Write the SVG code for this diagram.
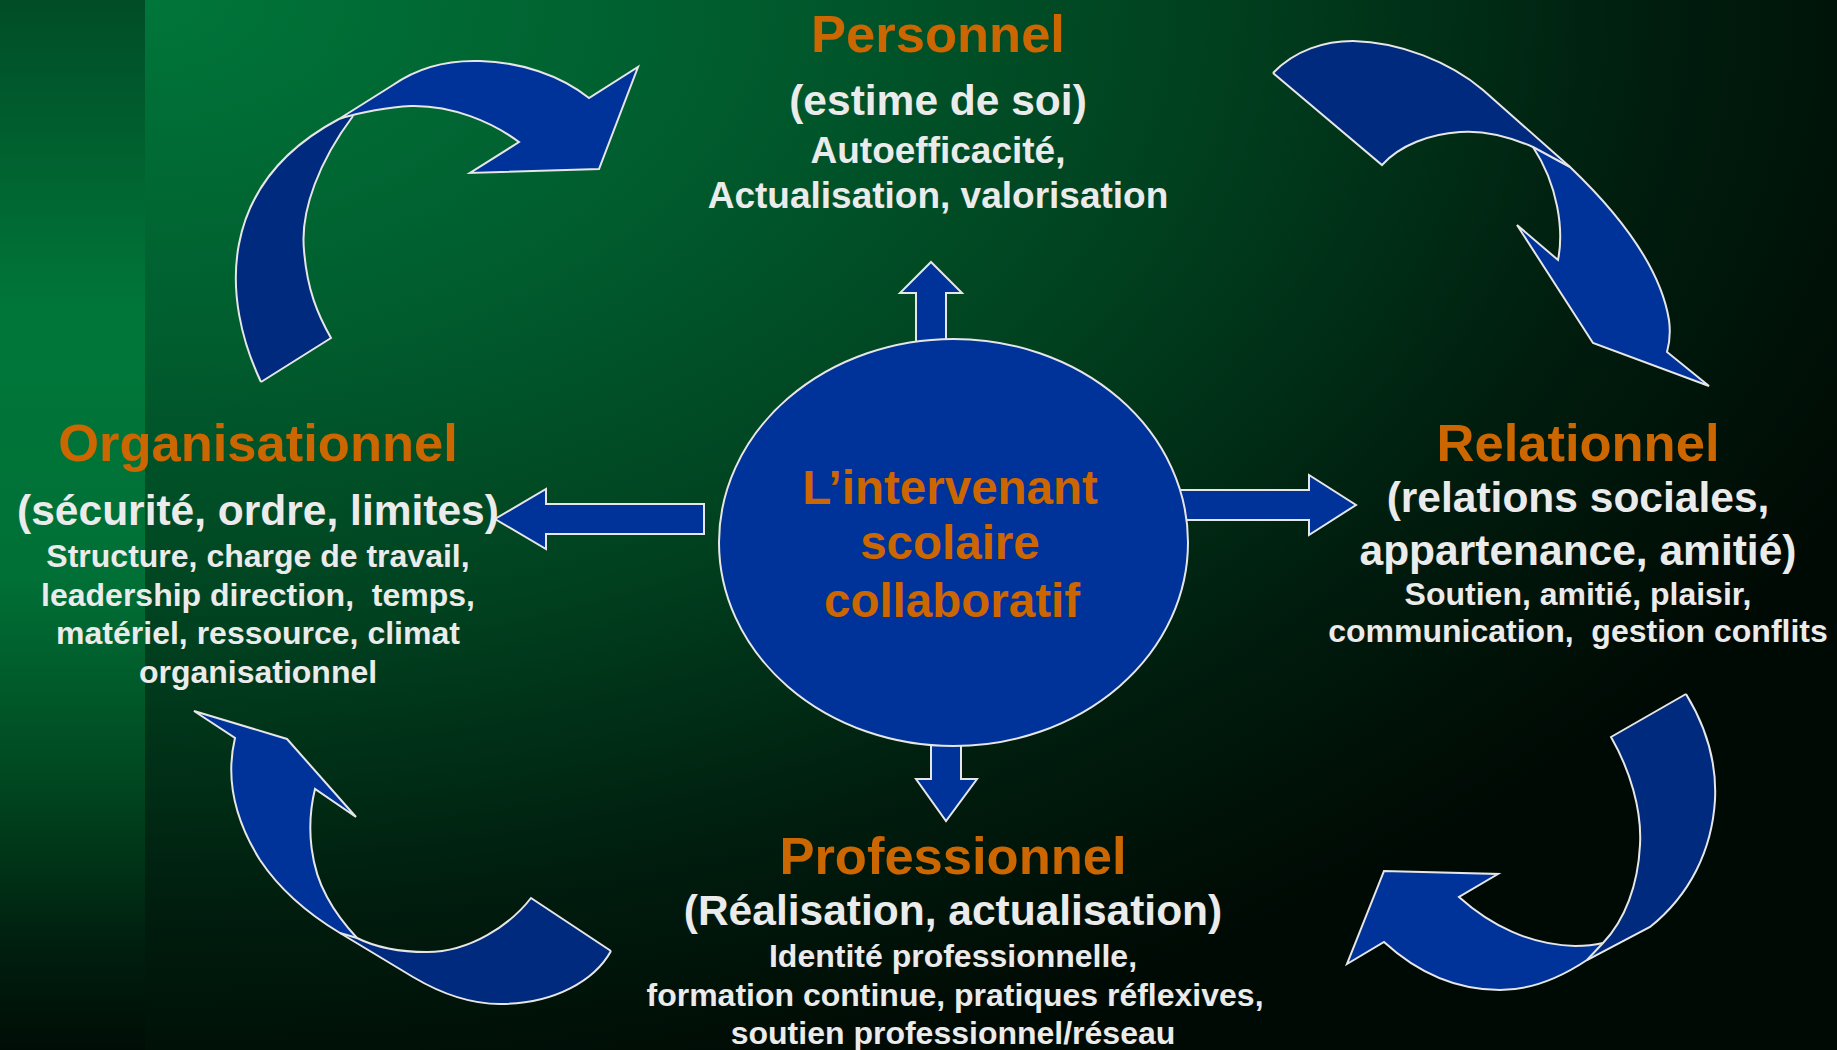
<svg xmlns="http://www.w3.org/2000/svg" width="1837" height="1050" viewBox="0 0 1837 1050">
<defs>
<radialGradient id="bgMain" gradientUnits="userSpaceOnUse" cx="145" cy="0" r="1900" gradientTransform="translate(145,0) scale(1,0.6) translate(-145,0)">
<stop offset="0" stop-color="#00763a"/>
<stop offset="0.3" stop-color="#005d2e"/>
<stop offset="0.55" stop-color="#004220"/>
<stop offset="0.8" stop-color="#001d0e"/>
<stop offset="1" stop-color="#000a04"/>
</radialGradient>
<linearGradient id="bgStrip" x1="0" y1="0" x2="0" y2="1">
<stop offset="0" stop-color="#004d26"/>
<stop offset="0.3" stop-color="#00773a"/>
<stop offset="0.55" stop-color="#007036"/>
<stop offset="0.75" stop-color="#00461f"/>
<stop offset="0.9" stop-color="#001f0f"/>
<stop offset="1" stop-color="#000d06"/>
</linearGradient>
</defs>
<style>
.t{font-family:"Liberation Sans",Arial,Helvetica,sans-serif;font-weight:bold;text-anchor:middle}
.h{fill:#cc6600;font-size:52.5px}
.s{fill:#ebebeb;font-size:42.5px}
.b{fill:#ebebeb;font-size:32px}
.bt{fill:#ebebeb;font-size:37px}
.c{fill:#cc6600;font-size:47.5px}
.pre{white-space:pre}
.arrow{fill:#003399;stroke:#e6e6e6;stroke-width:2;stroke-linejoin:miter}
.dark{fill:#002a7d;stroke:none}
.bright{fill:#003399;stroke:none}
.edge{fill:none;stroke:#e6e6e6;stroke-width:2;stroke-linejoin:miter}
.ell{fill:#003399;stroke:#e6e6e6;stroke-width:2}
</style>

<rect x="0" y="0" width="1837" height="1050" fill="url(#bgMain)"/>
<rect x="0" y="0" width="145" height="1050" fill="url(#bgStrip)"/>

<g id="connectors">
<!-- straight arrows from the centre -->
<polygon class="arrow" points="916,350 916,293 900,293 931,262 962,293 946,293 946,350"/>
<polygon class="arrow" points="931,735 931,779 916,779 946,821 977,779 961,779 961,735"/>
<polygon class="arrow" points="1170,490 1309,490 1309,475 1356,505 1309,535 1309,520 1170,520"/>
<polygon class="arrow" points="704,504 546,504 546,489 495,519 546,549 546,534 704,534"/>

<!-- top-left curved arrow -->
<g id="curve-tl">
<path class="dark" d="M261,382 C222,300 215,185 339,119 L353,116 C320,160 300,210 304,250 C307,290 318,315 331,338 Z"/>
<path class="bright" d="M339,119 L393,85 C420,66 450,60 480,61 C520,62 560,75 589,98 L638,67 L599,169 L470,173 L519,142 C492,122 452,105 411,106 C390,107 360,112 339,119 Z"/>
<path class="edge" d="M261,382 C222,300 215,185 339,119 L393,85 C420,66 450,60 480,61 C520,62 560,75 589,98 L638,67 L599,169 L470,173 L519,142 C492,122 452,105 411,106 C390,107 360,112 339,119"/>
<path class="edge" d="M261,382 L331,338 C318,315 307,290 304,250 C300,210 320,160 353,116"/>
</g>

<!-- top-right curved arrow -->
<g id="curve-tr">
<path class="dark" d="M1273,73 C1295,50 1325,41 1353,41 C1400,42 1450,62 1483,90 L1570,167 L1533,147 C1510,137 1485,130 1460,132 C1430,134 1400,145 1382,165 Z"/>
<path class="bright" d="M1533,147 L1570,167 C1615,210 1660,265 1669,320 C1671,335 1669,345 1667,352 L1709,386 L1593,343 L1517,225 L1558,260 C1564,230 1558,185 1533,147 Z"/>
<path class="edge" d="M1273,73 C1295,50 1325,41 1353,41 C1400,42 1450,62 1483,90 L1570,167 C1615,210 1660,265 1669,320 C1671,335 1669,345 1667,352 L1709,386 L1593,343 L1517,225 L1558,260 C1564,230 1558,185 1533,147"/>
<path class="edge" d="M1273,73 L1382,165 C1400,145 1430,134 1460,132 C1485,130 1510,137 1533,147 L1570,167"/>
</g>

<!-- bottom-right curved arrow -->
<g id="curve-br">
<path class="dark" d="M1686,694 C1705,725 1717,760 1715,800 C1712,850 1690,895 1650,927 L1587,960 L1603,943 C1625,920 1638,885 1640,845 C1642,810 1630,770 1611,737 Z"/>
<path class="bright" d="M1603,943 L1587,960 C1560,978 1530,990 1500,990 C1460,990 1420,975 1384,942 L1347,964 L1384,871 L1498,874 L1459,897 C1490,925 1530,945 1575,946 C1585,946 1595,945 1603,943 Z"/>
<path class="edge" d="M1686,694 C1705,725 1717,760 1715,800 C1712,850 1690,895 1650,927 L1587,960 C1560,978 1530,990 1500,990 C1460,990 1420,975 1384,942 L1347,964 L1384,871 L1498,874 L1459,897 C1490,925 1530,945 1575,946 C1585,946 1595,945 1603,943"/>
<path class="edge" d="M1686,694 L1611,737 C1630,770 1642,810 1640,845 C1638,885 1625,920 1603,943 L1587,960"/>
</g>

<!-- bottom-left curved arrow -->
<g id="curve-bl">
<path class="dark" d="M611,951 C595,980 555,1004 500,1004 C470,1004 440,993 413,977 L340,933 L357,938 C375,947 400,952 427,952 C470,952 510,925 531,898 Z"/>
<path class="bright" d="M340,933 C310,915 280,890 260,860 C235,820 225,780 235,738 L194,711 L287,739 L356,817 L315,789 C305,830 312,870 327,897 C335,912 345,925 357,938 Z"/>
<path class="edge" d="M611,951 C595,980 555,1004 500,1004 C470,1004 440,993 413,977 L340,933 C310,915 280,890 260,860 C235,820 225,780 235,738 L194,711 L287,739 L356,817 L315,789 C305,830 312,870 327,897 C335,912 345,925 357,938"/>
<path class="edge" d="M611,951 L531,898 C510,925 470,952 427,952 C400,952 375,947 357,938 L340,933"/>
</g>
</g>

<g id="node-centre">
<ellipse class="ell" cx="953.5" cy="542.5" rx="234.5" ry="203.5"/>
<text class="t c" x="950" y="504">L’intervenant</text>
<text class="t c" x="950" y="559">scolaire</text>
<text class="t c" x="952" y="617">collaboratif</text>
</g>

<g id="node-personnel">
<text class="t h" x="938" y="52">Personnel</text>
<text class="t s" x="938" y="115">(estime de soi)</text>
<text class="t bt" x="938" y="163">Autoefficacité,</text>
<text class="t bt" x="938" y="208">Actualisation, valorisation</text>
</g>

<g id="node-organisationnel">
<text class="t h" x="258" y="461">Organisationnel</text>
<text class="t s" x="258" y="525">(sécurité, ordre, limites)</text>
<text class="t b" x="258" y="567">Structure, charge de travail,</text>
<text class="t b pre" x="258" y="605.5">leadership direction,  temps,</text>
<text class="t b" x="258" y="644">matériel, ressource, climat</text>
<text class="t b" x="258" y="683">organisationnel</text>
</g>

<g id="node-relationnel">
<text class="t h" x="1578" y="461">Relationnel</text>
<text class="t s" x="1578" y="512">(relations sociales,</text>
<text class="t s" x="1578" y="565">appartenance, amitié)</text>
<text class="t b" x="1578" y="605">Soutien, amitié, plaisir,</text>
<text class="t b pre" x="1578" y="642">communication,  gestion conflits</text>
</g>

<g id="node-professionnel">
<text class="t h" x="953" y="874">Professionnel</text>
<text class="t s" x="953" y="925">(Réalisation, actualisation)</text>
<text class="t b" x="953" y="967">Identité professionnelle,</text>
<text class="t b" x="955" y="1006">formation continue, pratiques réflexives,</text>
<text class="t b" x="953" y="1044">soutien professionnel/réseau</text>
</g>
</svg>
